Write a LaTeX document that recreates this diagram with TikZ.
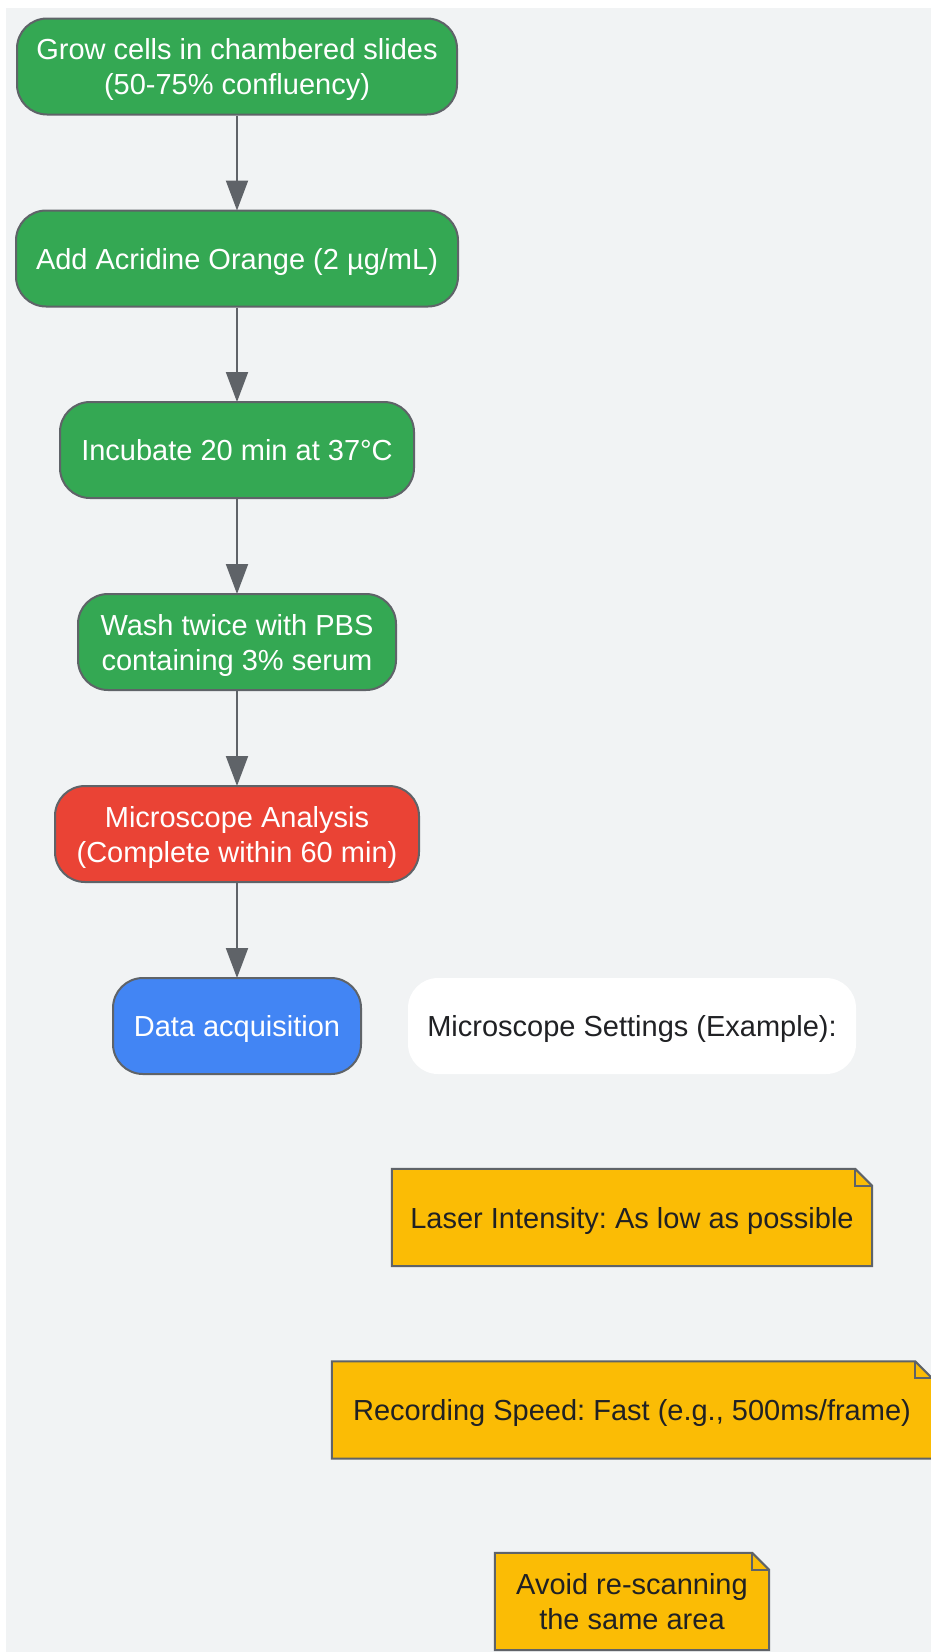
\documentclass[tikz,border=0pt]{standalone}
\usepackage{fontspec}
\setmainfont{Liberation Sans}
\usetikzlibrary{arrows.meta}
\definecolor{bgc}{HTML}{F1F3F4}
\definecolor{gfill}{HTML}{34A853}
\definecolor{rfill}{HTML}{EA4335}
\definecolor{bfill}{HTML}{4285F4}
\definecolor{yfill}{HTML}{FBBC05}
\definecolor{bord}{HTML}{5F6368}
\definecolor{dtext}{HTML}{202124}
\tikzset{
  txt/.style={text depth=0pt, font=\fontsize{29}{35}\selectfont\frenchspacing},
  proc/.style={rectangle, rounded corners=30pt, draw=bord, line width=2pt,
    text=white, align=center, inner sep=0pt, minimum height=96pt, txt},
  green/.style={proc, fill=gfill},
  redbox/.style={proc, fill=rfill},
  bluebox/.style={proc, fill=bfill},
  plain/.style={rectangle, rounded corners=30pt, fill=white, text=dtext,
    align=center, inner sep=0pt, minimum height=96pt, txt},
  notebox/.style={rectangle, inner sep=0pt, minimum height=97pt},
  notetext/.style={text=dtext, align=center, inner sep=0pt, txt},
  noteline/.style={draw=bord, line width=2pt, line join=miter},
  arr/.style={draw=bord, line width=2pt, -{Triangle[length=30pt,width=22pt]}, shorten >=-1pt}
}
\newcommand{\drawnote}[1]{%
  \fill[yfill] (#1.south west) -- (#1.north west) -- ([xshift=-17pt]#1.north east)
     -- ([yshift=-17pt]#1.north east) -- (#1.south east) -- cycle;
  \draw[noteline] (#1.south west) -- (#1.north west) -- ([xshift=-17pt]#1.north east)
     -- ([yshift=-17pt]#1.north east) -- (#1.south east) -- cycle;
  \draw[noteline] ([xshift=-17pt]#1.north east) -- ([xshift=-17pt,yshift=-17pt]#1.north east)
     -- ([yshift=-17pt]#1.north east);
}
\begin{document}
\begin{tikzpicture}[x=1pt,y=-1pt]
\useasboundingbox (0,0) rectangle (931,1652);
\fill[bgc] (6,8) rectangle (931,1652);

\node[green, minimum width=440pt] (n1) at (237,66.5) {Grow cells in chambered slides\\(50-75\% confluency)};
\node[green, minimum width=442pt] (n2) at (237,258.5) {Add Acridine Orange (2 µg/mL)};
\node[green, minimum width=354pt] (n3) at (237,450) {Incubate 20 min at 37°C};
\node[green, minimum width=318pt] (n4) at (237,642) {Wash twice with PBS\\containing 3\% serum};
\node[redbox, minimum width=364pt] (n5) at (237,834) {Microscope Analysis\\(Complete within 60 min)};
\node[bluebox, minimum width=248pt] (n6) at (237,1026) {Data acquisition};

\node[plain, minimum width=448pt] (set) at (632,1026) {Microscope Settings (Example):};

\node[notebox, minimum width=480pt] (m1) at (632,1217.5) {};
\drawnote{m1}
\node[notetext] (t1) at (m1.center) {Laser Intensity: As low as possible};

\node[notebox, minimum width=600pt] (m2) at (632,1410) {};
\drawnote{m2}
\node[notetext] (t2) at (m2.center) {Recording Speed: Fast (e.g., 500ms/frame)};

\node[notebox, minimum width=274pt] (m3) at (632,1601.5) {};
\drawnote{m3}
\node[notetext] (t3) at (m3.center) {Avoid re-scanning\\the same area};

\draw[arr] (n1) -- (n2);
\draw[arr] (n2) -- (n3);
\draw[arr] (n3) -- (n4);
\draw[arr] (n4) -- (n5);
\draw[arr] (n5) -- (n6);
\end{tikzpicture}
\end{document}
